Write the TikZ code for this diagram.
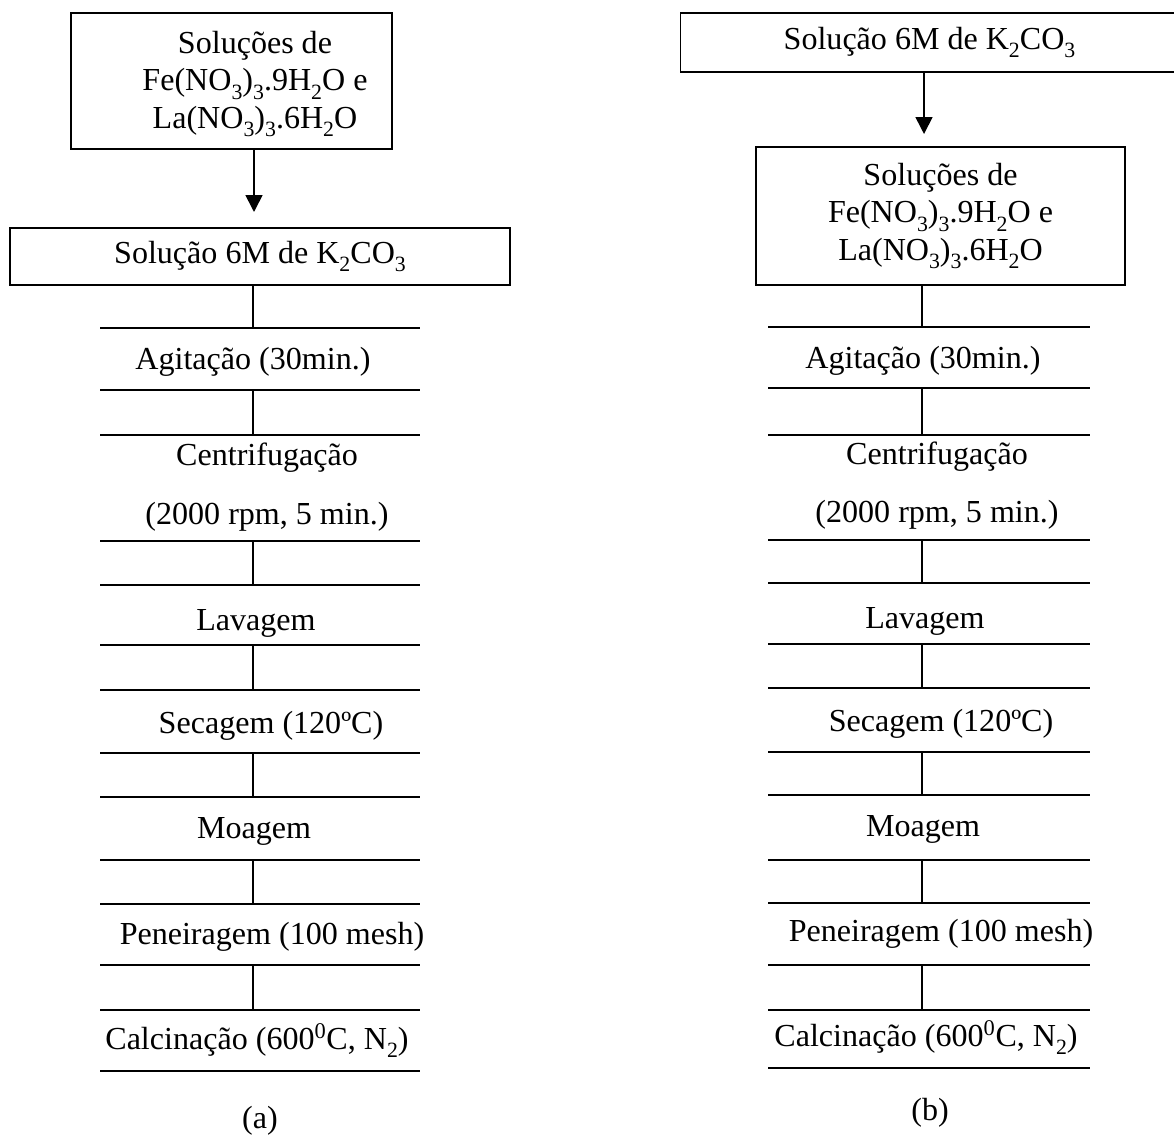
\documentclass[tikz,border=0pt]{standalone}
\usepackage{fontspec}
\setmainfont{Liberation Serif}
\usetikzlibrary{arrows.meta}
\newcommand{\sbx}[1]{\raisebox{-0.55ex}{\fontsize{15.5}{15.5}\selectfont #1}}
\tikzset{
  caixa/.style={draw, line width=1.2pt, inner sep=0pt, align=center},
  etapa/.style={anchor=base, inner sep=0pt},
  seta/.style={line width=1.2pt, -{Triangle[length=12pt,width=12pt]}},
  linha/.style={line width=1.2pt}
}
\begin{document}
\begin{tikzpicture}[x=0.025cm, y=-0.025cm, font=\fontsize{22.8}{26.7}\selectfont]
\useasboundingbox (0,0) rectangle (1174,1136);

% fluxograma (a)
\node[caixa, minimum width=8.025cm, minimum height=3.4cm] (solA) at (231.5,81) {};
\node[align=center, inner sep=0pt] (solAt) at (255,84) {Soluções de\\Fe(NO\sbx{3})\sbx{3}.9H\sbx{2}O e\\La(NO\sbx{3})\sbx{3}.6H\sbx{2}O};
\coordinate (pontaA) at (254,212);
\draw[seta] (solA.south -| pontaA) -- (pontaA);
\node[caixa, minimum width=12.5cm, minimum height=1.425cm] (kA) at (260,256.5) {Solução 6M de K\sbx{2}CO\sbx{3}};

% linhas das etapas (a)
\foreach \y [count=\i from 0] in {328,390,435,541,585,645,690,753,797,860,904,965,1010,1071}
  {\draw[linha] (100,\y) -- (420,\y); \coordinate (a\i) at (253,\y);}
\draw[linha] (kA.south -| a0) -- (a0);
\foreach \i/\j in {1/2,3/4,5/6,7/8,9/10,11/12}
  \draw[linha] (a\i) -- (a\j);

\node[etapa] (agitA) at (253,369) {Agitação (30min.)};
\node[etapa] (centA) at (267,465) {Centrifugação};
\node[etapa] (rpmA) at (267,524) {(2000 rpm, 5 min.)};
\node[etapa] (lavA) at (256,630) {Lavagem};
\node[etapa] (secA) at (271,733) {Secagem (120ºC)};
\node[etapa] (moaA) at (254,838) {Moagem};
\node[etapa] (penA) at (272,944) {Peneiragem (100 mesh)};
\node[etapa] (calA) at (257,1049) {Calcinação (600\textsuperscript{0}C, N\sbx{2})};
\node[etapa] (rotA) at (260,1128) {(a)};

% fluxograma (b)
\node[caixa, minimum width=12.45cm, minimum height=1.475cm] (kB) at (929.5,42.5) {Solução 6M de K\sbx{2}CO\sbx{3}};
\coordinate (pontaB) at (924,134);
\draw[seta] (kB.south -| pontaB) -- (pontaB);
\node[caixa, minimum width=9.225cm, minimum height=3.45cm] (solB) at (940.5,216) {Soluções de\\Fe(NO\sbx{3})\sbx{3}.9H\sbx{2}O e\\La(NO\sbx{3})\sbx{3}.6H\sbx{2}O};

% linhas das etapas (b)
\foreach \y [count=\i from 0] in {327,388,435,540,583,644,688,752,795,860,903,965,1010,1068}
  {\draw[linha] (768,\y) -- (1090,\y); \coordinate (b\i) at (922,\y);}
\draw[linha] (solB.south -| b0) -- (b0);
\foreach \i/\j in {1/2,3/4,5/6,7/8,9/10,11/12}
  \draw[linha] (b\i) -- (b\j);

\node[etapa] (agitB) at (923,368) {Agitação (30min.)};
\node[etapa] (centB) at (937,464) {Centrifugação};
\node[etapa] (rpmB) at (937,522) {(2000 rpm, 5 min.)};
\node[etapa] (lavB) at (925,628) {Lavagem};
\node[etapa] (secB) at (941,731) {Secagem (120ºC)};
\node[etapa] (moaB) at (923,836) {Moagem};
\node[etapa] (penB) at (941,941) {Peneiragem (100 mesh)};
\node[etapa] (calB) at (926,1046) {Calcinação (600\textsuperscript{0}C, N\sbx{2})};
\node[etapa] (rotB) at (930,1120) {(b)};
\end{tikzpicture}
\end{document}
